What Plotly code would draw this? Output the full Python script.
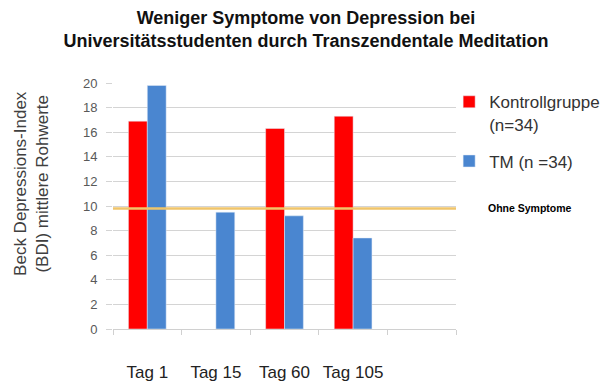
import plotly.graph_objects as go

categories = ["Tag 1", "Tag 15", "Tag 60", "Tag 105", " "]
kontroll = [16.9, None, 16.3, 17.3, None]
tm = [19.8, 9.5, 9.2, 7.4, None]
threshold = 9.8
tick_labels = ["Tag 1", "Tag 15", "Tag 60", "Tag 105", ""]

FONT = "Liberation Sans, Arial, sans-serif"

fig = go.Figure()
fig.add_trace(go.Bar(x=categories, y=kontroll, name="Kontrollgruppe<br>(n=34)",
                     marker=dict(color="#FF0000"), legendgroup="a"))
fig.add_trace(go.Bar(x=categories, y=tm, name="TM (n =34)",
                     marker=dict(color="#4A86D0"), legendgroup="b"))

fig.add_shape(type="line", xref="paper", yref="y", x0=0, x1=1, y0=threshold, y1=threshold,
              line=dict(color="#F0C56A", width=2.5))

fig.add_annotation(text="<b>Ohne Symptome</b>", xref="paper", yref="y", x=1.088, y=threshold,
                   xanchor="left", yanchor="middle", showarrow=False,
                   font=dict(family=FONT, size=10.5, color="#000000"))

fig.add_annotation(text="Beck Depressions-Index<br>(BDI) mittlere Rohwerte", xref="paper", yref="paper",
                   x=-0.236, y=0.59, xanchor="center", yanchor="middle", textangle=-90,
                   showarrow=False, font=dict(family=FONT, size=17, color="#404040"))

fig.update_layout(
    width=612, height=381,
    margin=dict(l=113, r=156, t=83, b=52, autoexpand=False),
    paper_bgcolor="white", plot_bgcolor="white",
    font=dict(family=FONT, color="#404040"),
    title=dict(text="<b>Weniger Symptome von Depression bei<br>Universitätsstudenten durch Transzendentale Meditation</b>",
               x=0.5, xanchor="center", y=0.938, yanchor="middle", yref="container",
               font=dict(family=FONT, size=18, color="#111111")),
    barmode="group", bargap=0.45, bargroupgap=0,
    legend=dict(x=0.980, xanchor="left", y=0.995, yanchor="top", valign="top",
                font=dict(family=FONT, size=17, color="#333333"), tracegroupgap=12,
                bgcolor="rgba(0,0,0,0)"),
    xaxis=dict(type="category", categoryorder="array", categoryarray=categories,
               range=[-0.5, 4.5], tickmode="array", tickvals=categories, ticktext=tick_labels,
               tickson="boundaries", ticks="outside", ticklen=5, tickcolor="#d0d0d0",
               showline=True, linecolor="#d0d0d0", linewidth=1, showgrid=False, tickangle=0,
               automargin=False,
               tickfont=dict(family=FONT, size=17, color="#222222"), ticklabelstandoff=28),
    yaxis=dict(range=[0, 20], dtick=2, showgrid=True, gridcolor="#d4d4d4", gridwidth=1,
               ticks="outside", ticklen=6, tickcolor="#d4d4d4", showline=False, zeroline=False,
               automargin=False,
               tickfont=dict(family=FONT, size=13, color="#595959"), ticklabelstandoff=6),
)

fig.write_html("out.html")
